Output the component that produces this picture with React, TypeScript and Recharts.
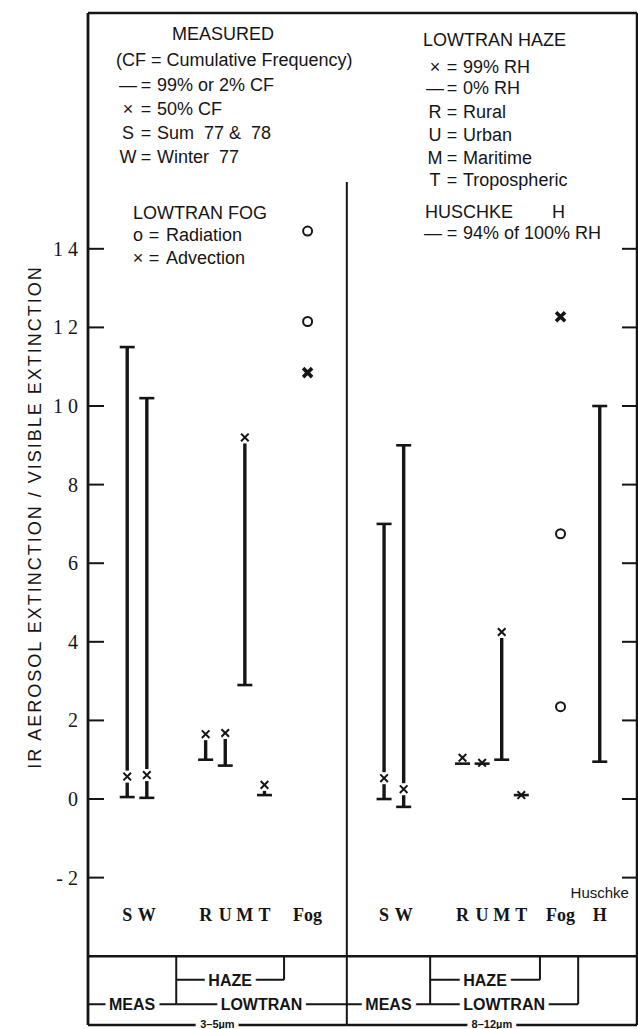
import React from 'react'
import { ComposedChart, XAxis, YAxis, Scatter, ErrorBar, ReferenceLine } from 'recharts'

// column positions on the x scale (0–28): 3–5 µm panel, then 8–12 µm panel
const columnLabels = ['S', 'W', 'R', 'U', 'M', 'T', 'Fog', 'S', 'W', 'R', 'U', 'M', 'T', 'Fog', 'H']
const columnPos = [2, 3, 6, 7, 8, 9, 11.2, 15.1, 16.1, 19.1, 20.1, 21.1, 22.1, 24.1, 26.1]

// measured: 2% CF, 50% CF, 99% CF (3-5 S, 3-5 W, 8-12 S, 8-12 W)
const measPos = [2, 3, 15.1, 16.1]
const measLow = [0.05, 0.03, 0.0, -0.2]
const measMid = [0.57, 0.61, 0.53, 0.25]
const measHigh = [11.5, 10.2, 7.0, 9.0]

// lowtran haze: 0% RH and 99% RH (R U M T for 3-5, then 8-12)
const hazePos = [6, 7, 8, 9, 19.1, 20.1, 21.1, 22.1]
const haze0 = [1.0, 0.85, 2.9, 0.1, 0.9, 0.9, 1.0, 0.1]
const haze99 = [1.65, 1.68, 9.2, 0.36, 1.05, 0.92, 4.25, 0.1]

// lowtran fog
const fogRadPos = [11.2, 11.2, 24.1, 24.1]
const fogRad = [14.45, 12.15, 6.75, 2.35]
const fogAdvPos = [11.2, 24.1]
const fogAdv = [10.85, 12.27]

// huschke, 94% of 100% RH
const huschkePos = [26.1]
const huschkeLow = [0.95]
const huschkeHigh = [10.0]

const yTicks = [-2, 0, 2, 4, 6, 8, 10, 12, 14]

// bottom bracket box
const boxTop = -4
const hazeLevel = -4.6
const lowLevel = -5.22
const frameBottom = -5.75
const dividerX = 13.2
const dividerTop = 15.7
const brackets = [
  { label: 'MEAS', from: 0, to: 4.5, level: lowLevel },
  { label: 'LOWTRAN', from: 4.5, to: dividerX, level: lowLevel },
  { label: 'HAZE', from: 4.5, to: 10.0, level: hazeLevel },
  { label: 'MEAS', from: dividerX, to: 17.45, level: lowLevel },
  { label: 'HAZE', from: 17.45, to: 23.05, level: hazeLevel },
  { label: 'LOWTRAN', from: 17.45, to: 25.0, level: lowLevel },
]
const bracketDrops = [
  { x: 4.5, to: lowLevel },
  { x: 10.0, to: hazeLevel },
  { x: 17.45, to: lowLevel },
  { x: 23.05, to: hazeLevel },
  { x: 25.0, to: lowLevel },
]
const bands = [
  { label: '3–5µm', from: 0, to: dividerX },
  { label: '8–12µm', from: dividerX, to: 28 },
]

const rangeRows = [
  ...measPos.map((x, i) => ({ x, y: measLow[i], err: [0, measHigh[i] - measLow[i]] })),
  ...hazePos.map((x, i) => ({ x, y: haze0[i], err: [0, haze99[i] - haze0[i]] })),
  ...huschkePos.map((x, i) => ({ x, y: huschkeLow[i], err: [0, huschkeHigh[i] - huschkeLow[i]] })),
]
const crossRows = [
  ...measPos.map((x, i) => ({ x, y: measMid[i] })),
  ...hazePos.map((x, i) => ({ x, y: haze99[i] })),
]
const capRows = [
  ...measPos.map((x, i) => ({ x, y: measLow[i] })),
  ...measPos.map((x, i) => ({ x, y: measHigh[i] })),
  ...hazePos.map((x, i) => ({ x, y: haze0[i] })),
  ...huschkePos.map((x, i) => ({ x, y: huschkeLow[i] })),
  ...huschkePos.map((x, i) => ({ x, y: huschkeHigh[i] })),
]
const radRows = fogRadPos.map((x, i) => ({ x, y: fogRad[i] }))
const advRows = fogAdvPos.map((x, i) => ({ x, y: fogAdv[i] }))
const catRows = columnPos.map((x, i) => ({ x, y: -2.95, label: columnLabels[i] }))
const huschkeTag = [{ x: 26.1, y: -2.39, label: 'Huschke' }]

const INK = '#151515'
const sans = '"Liberation Sans", Arial, sans-serif'
const serif = '"Liberation Serif", "Times New Roman", serif'

const Empty = () => <g />

const Cap = ({ cx, cy }: any) => (
  <line x1={cx - 7.5} x2={cx + 7.5} y1={cy} y2={cy} stroke={INK} strokeWidth={2.6} />
)

const Cross = ({ cx, cy }: any) => (
  <g>
    <rect x={cx - 5} y={cy - 6} width={10} height={12} fill="#fff" />
    <path
      d={`M${cx - 3.8},${cy - 3.8}L${cx + 3.8},${cy + 3.8}M${cx - 3.8},${cy + 3.8}L${cx + 3.8},${cy - 3.8}`}
      stroke={INK}
      strokeWidth={2}
    />
  </g>
)

const BoldCross = ({ cx, cy }: any) => (
  <path
    d={`M${cx - 4.5},${cy - 4.5}L${cx + 4.5},${cy + 4.5}M${cx - 4.5},${cy + 4.5}L${cx + 4.5},${cy - 4.5}`}
    stroke={INK}
    strokeWidth={3.6}
  />
)

const Ring = ({ cx, cy }: any) => (
  <circle cx={cx} cy={cy} r={4.5} fill="#fff" stroke={INK} strokeWidth={2} />
)

const CatLabel = ({ cx, cy, payload }: any) => (
  <text x={cx} y={cy} textAnchor="middle" dominantBaseline="central" fontFamily={serif} fontSize={18} fontWeight={700} fill={INK}>
    {payload.label}
  </text>
)

const TagLabel = ({ cx, cy, payload }: any) => (
  <text x={cx} y={cy} textAnchor="middle" dominantBaseline="central" fontFamily={sans} fontSize={15} fill={INK}>
    {payload.label}
  </text>
)

const LeftTick = ({ x, y, payload }: any) => (
  <g>
    <text x={x} y={y} textAnchor="end" dominantBaseline="central" fontFamily={serif} fontSize={20} fill={INK}>
      {String(payload.value).replace('-', '- ').split('').join(payload.value >= 10 ? ' ' : '')}
    </text>
    <line x1={x + 10} x2={x + 26} y1={y} y2={y} stroke={INK} strokeWidth={2} />
  </g>
)

const RightTick = ({ x, y }: any) => (
  <line x1={x - 15} x2={x} y1={y} y2={y} stroke={INK} strokeWidth={2} />
)

const haloLabel = (text: string, dy: number, size: number) => (props: any) => {
  const vb = props.viewBox
  return (
    <text
      x={vb.x + vb.width / 2}
      y={vb.y + vb.height / 2 + dy}
      textAnchor="middle"
      fontFamily={sans}
      fontSize={size}
      fontWeight={700}
      fill={INK}
      stroke="#fff"
      strokeWidth={9}
      paintOrder="stroke"
    >
      {text}
    </text>
  )
}

const yLabel = (props: any) => {
  const vb = props.viewBox
  const cx = 35
  const cy = vb.y + vb.height / 2 - 2
  return (
    <text x={cx} y={cy} transform={`rotate(-90 ${cx} ${cy})`} textAnchor="middle" dominantBaseline="central" fontFamily={sans} fontSize={18} letterSpacing={2} fill={INK}>
      IR AEROSOL EXTINCTION / VISIBLE EXTINCTION
    </text>
  )
}

// legend block text (positions in px)
const legendLines = [
  { x: 172, y: 34, t: 'MEASURED' },
  { x: 116, y: 60, t: '(CF = Cumulative Frequency)' },
  { x: 133, y: 213, t: 'LOWTRAN FOG' },
  { x: 423, y: 40, t: 'LOWTRAN HAZE' },
  { x: 425, y: 212, t: 'HUSCHKE' },
  { x: 552, y: 212, t: 'H' },
]
const legendRows = [
  { sx: 128, ex: 146, tx: 157, y: 85, s: '—', t: '99% or 2% CF' },
  { sx: 128, ex: 146, tx: 157, y: 109, s: '×', t: '50% CF' },
  { sx: 128, ex: 146, tx: 157, y: 133, s: 'S', t: 'Sum  77 &  78' },
  { sx: 128, ex: 146, tx: 157, y: 157, s: 'W', t: 'Winter  77' },
  { sx: 138, ex: 154, tx: 166, y: 235, s: 'o', t: 'Radiation' },
  { sx: 138, ex: 154, tx: 166, y: 258, s: '×', t: 'Advection' },
  { sx: 435, ex: 452, tx: 463, y: 67, s: '×', t: '99% RH' },
  { sx: 435, ex: 452, tx: 463, y: 88, s: '—', t: '0% RH' },
  { sx: 435, ex: 452, tx: 463, y: 112, s: 'R', t: 'Rural' },
  { sx: 435, ex: 452, tx: 463, y: 135, s: 'U', t: 'Urban' },
  { sx: 435, ex: 452, tx: 463, y: 158, s: 'M', t: 'Maritime' },
  { sx: 435, ex: 452, tx: 463, y: 180, s: 'T', t: 'Tropospheric' },
  { sx: 433, ex: 452, tx: 463, y: 233, s: '—', t: '94% of 100% RH' },
]

const txtStyle = (x: number, y: number, center = false): React.CSSProperties => ({
  position: 'absolute',
  left: x,
  top: y - 9,
  fontFamily: sans,
  fontSize: 18,
  lineHeight: '18px',
  color: INK,
  whiteSpace: 'pre',
  transform: center ? 'translateX(-50%)' : undefined,
})

export default function App() {
  return (
    <div style={{ position: 'relative', width: 638, height: 1029, background: '#fff', overflow: 'hidden' }}>
      <style>{'body{margin:0}'}</style>
      <ComposedChart width={638} height={1029} margin={{ top: 13, right: 0, bottom: 4, left: 0 }}>
        <XAxis type="number" dataKey="x" domain={[0, 28]} allowDataOverflow hide />
        <YAxis
          type="number"
          domain={[frameBottom, 20]}
          allowDataOverflow
          ticks={yTicks}
          interval={0}
          width={88}
          tickSize={0}
          tickMargin={10}
          tickLine={false}
          axisLine={{ stroke: INK, strokeWidth: 2.8 }}
          tick={LeftTick}
          label={yLabel}
        />
        <YAxis
          yAxisId="r"
          orientation="right"
          type="number"
          domain={[frameBottom, 20]}
          allowDataOverflow
          ticks={yTicks}
          interval={0}
          width={1}
          tickSize={0}
          tickMargin={0}
          tickLine={false}
          axisLine={{ stroke: INK, strokeWidth: 2.5 }}
          tick={RightTick}
        />

        <ReferenceLine y={20} stroke={INK} strokeWidth={2.5} />
        <ReferenceLine y={boxTop} stroke={INK} strokeWidth={2.5} />
        <ReferenceLine
          segment={[{ x: dividerX, y: dividerTop }, { x: dividerX, y: frameBottom }]}
          stroke={INK}
          strokeWidth={2}
        />
        {bracketDrops.map((d, i) => (
          <ReferenceLine
            key={`d${i}`}
            segment={[{ x: d.x, y: boxTop }, { x: d.x, y: d.to }]}
            stroke={INK}
            strokeWidth={2}
          />
        ))}
        {brackets.map((b, i) => (
          <ReferenceLine
            key={`b${i}`}
            segment={[{ x: b.from, y: b.level }, { x: b.to, y: b.level }]}
            stroke={INK}
            strokeWidth={2}
            label={haloLabel(b.label, 6, 16)}
          />
        ))}
        {bands.map((b, i) => (
          <ReferenceLine
            key={`w${i}`}
            segment={[{ x: b.from, y: frameBottom }, { x: b.to, y: frameBottom }]}
            stroke={INK}
            strokeWidth={2.5}
            label={haloLabel(b.label, 2.5, 11)}
          />
        ))}

        <Scatter data={rangeRows} dataKey="y" shape={Empty} isAnimationActive={false}>
          <ErrorBar dataKey="err" direction="y" width={0} stroke={INK} strokeWidth={3.4} isAnimationActive={false} />
        </Scatter>
        <Scatter data={crossRows} dataKey="y" shape={Cross} isAnimationActive={false} />
        <Scatter data={capRows} dataKey="y" shape={Cap} isAnimationActive={false} />
        <Scatter data={radRows} dataKey="y" shape={Ring} isAnimationActive={false} />
        <Scatter data={advRows} dataKey="y" shape={BoldCross} isAnimationActive={false} />
        <Scatter data={catRows} dataKey="y" shape={CatLabel} isAnimationActive={false} />
        <Scatter data={huschkeTag} dataKey="y" shape={TagLabel} isAnimationActive={false} />
      </ComposedChart>

      {legendLines.map((l, i) => (
        <div key={`l${i}`} style={txtStyle(l.x, l.y)}>{l.t}</div>
      ))}
      {legendRows.map((r, i) => (
        <React.Fragment key={`r${i}`}>
          <div style={txtStyle(r.sx, r.y, true)}>{r.s}</div>
          <div style={txtStyle(r.ex, r.y, true)}>=</div>
          <div style={txtStyle(r.tx, r.y)}>{r.t}</div>
        </React.Fragment>
      ))}
    </div>
  )
}
